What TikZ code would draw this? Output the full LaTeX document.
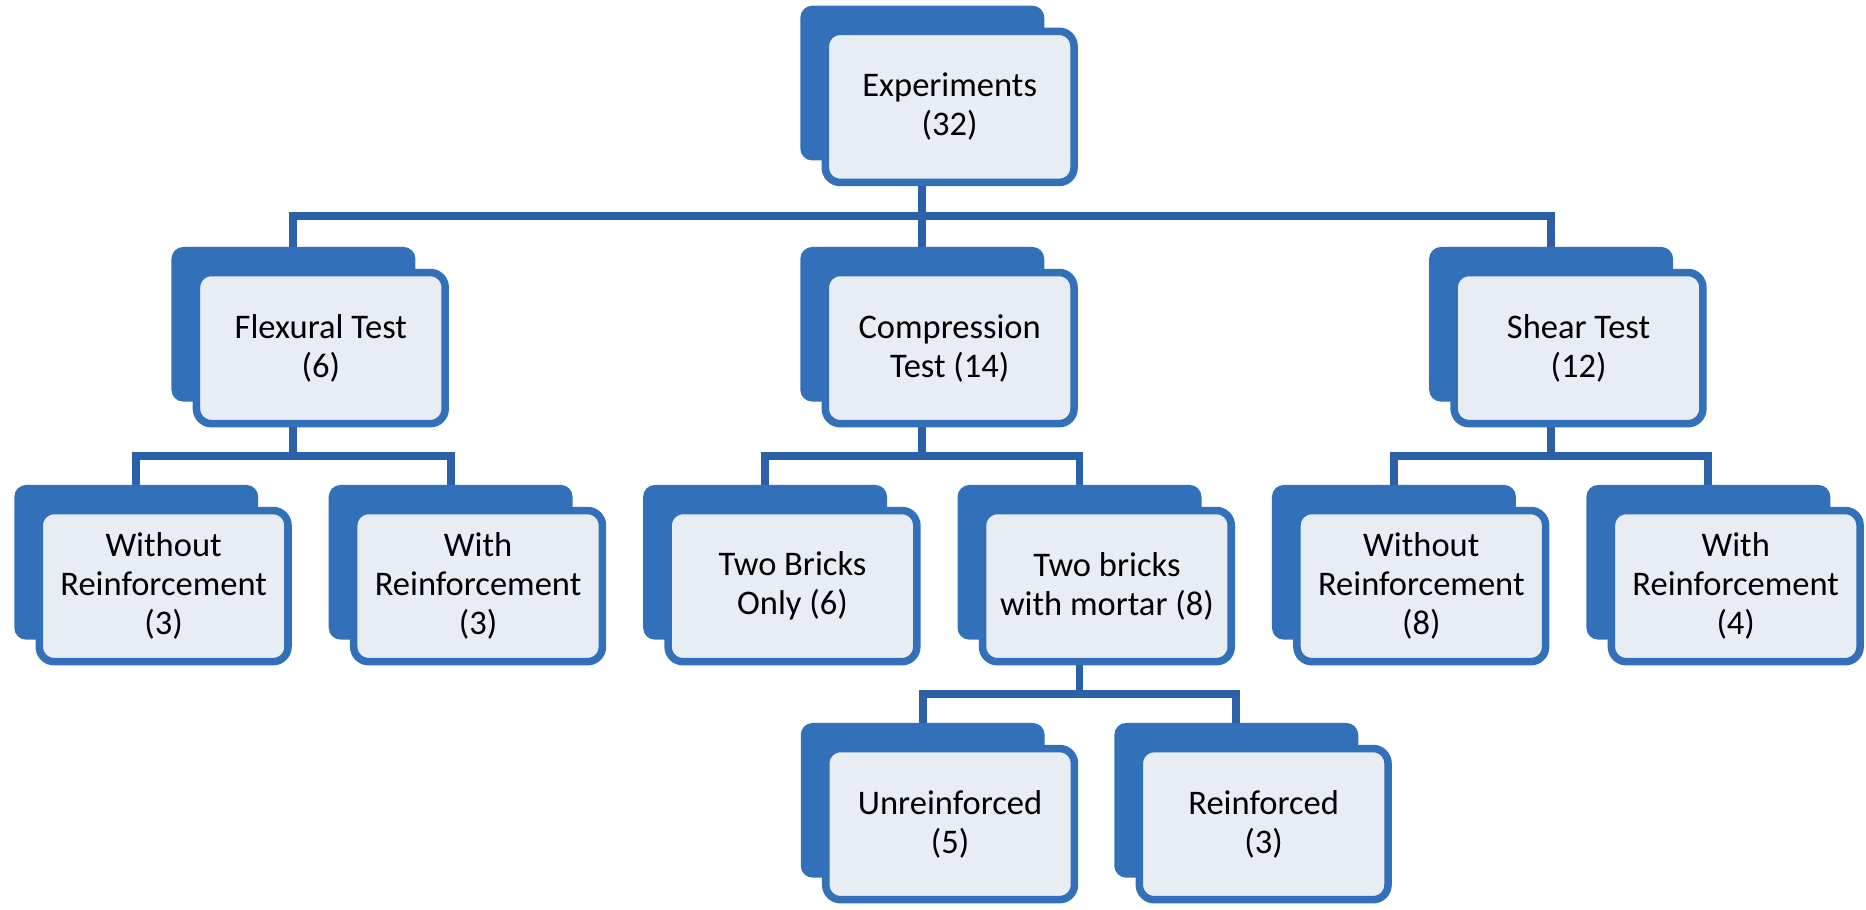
\documentclass[tikz,border=0pt]{standalone}
\usepackage{fontspec}
\setmainfont{Carlito}
\usepackage{tikz}
\usetikzlibrary{positioning, calc, backgrounds}
\definecolor{boxblue}{HTML}{3270BA}
\definecolor{linkblue}{HTML}{2C61A8}
\definecolor{cardfill}{HTML}{E8ECF3}

\begin{document}
\begin{tikzpicture}[
        every node/.style={font=\fontsize{16.5}{18.7}\selectfont},
        backbox/.style={rectangle, rounded corners=0.2cm, fill=boxblue,
          minimum width=4.1cm, minimum height=2.6cm, inner sep=0pt},
        box/.style={rectangle, rounded corners=0.25cm, draw=boxblue, fill=cardfill,
          line width=3.6pt, minimum width=4.18cm, minimum height=2.54cm,
          inner sep=2pt, align=center},
        link/.style={draw=linkblue, line width=3.8pt}]

      \useasboundingbox (0,0) rectangle (31.36,-15.28);

      % back cards, row of leaves first
      \node[backbox] (wor1-b) at (2.29,-9.45) {};
      \node[backbox, right=1.17cm of wor1-b] (wr1-b) {};
      \node[backbox, right=1.17cm of wr1-b] (tbo-b) {};
      \node[backbox, right=1.17cm of tbo-b] (tbm-b) {};
      \node[backbox, right=1.17cm of tbm-b] (wor2-b) {};
      \node[backbox, right=1.17cm of wor2-b] (wr2-b) {};

      \node[backbox] (flex-b) at ($(wor1-b)!0.5!(wr1-b)+(0,4)$) {};
      \node[backbox] (comp-b) at ($(tbo-b)!0.5!(tbm-b)+(0,4)$) {};
      \node[backbox] (shear-b) at ($(wor2-b)!0.5!(wr2-b)+(0,4)$) {};
      \node[backbox, above=1.44cm of comp-b] (exp-b) {};

      \node[backbox] (unr-b) at ($(tbm-b)+(-2.635,-4)$) {};
      \node[backbox] (rf-b) at ($(tbm-b)+(2.635,-4)$) {};

      % front cards
      \foreach \n/\t in {exp/{Experiments\\(32)},
          flex/{Flexural Test\\(6)}, comp/{Compression\\Test (14)},
          shear/{Shear Test\\(12)},
          wor1/{Without\\Reinforcement\\(3)}, wr1/{With\\Reinforcement\\(3)},
          tbo/{Two Bricks\\Only (6)}, tbm/{Two bricks\\with mortar (8)},
          wor2/{Without\\Reinforcement\\(8)}, wr2/{With\\Reinforcement\\(4)},
          unr/{Unreinforced\\(5)}, rf/{Reinforced\\(3)}}
        \node[box] (\n) at ($(\n-b)+(0.46,-0.4)$) {\t};

      \begin{scope}[on background layer]
        \coordinate (bar0) at ($(exp.south)!0.5!(comp-b.north)$);
        \foreach \c in {flex, comp, shear}
          \draw[link] (exp-b.center) -- (exp-b |- bar0) -| (\c-b.north);

        \coordinate (bar1) at ($(flex.south)!0.5!(wor1-b.north)$);
        \foreach \c in {wor1, wr1}
          \draw[link] (flex-b.center) -- (flex-b |- bar1) -| (\c-b.north);

        \coordinate (bar2) at ($(comp.south)!0.5!(tbo-b.north)$);
        \foreach \c in {tbo, tbm}
          \draw[link] (comp-b.center) -- (comp-b |- bar2) -| (\c-b.north);

        \coordinate (bar3) at ($(shear.south)!0.5!(wor2-b.north)$);
        \foreach \c in {wor2, wr2}
          \draw[link] (shear-b.center) -- (shear-b |- bar3) -| (\c-b.north);

        \coordinate (bar4) at ($(tbm.south)!0.5!(unr-b.north)$);
        \foreach \c in {unr, rf}
          \draw[link] (tbm-b.center) -- (tbm-b |- bar4) -| (\c-b.north);
      \end{scope}
    \end{tikzpicture}
\end{document}
